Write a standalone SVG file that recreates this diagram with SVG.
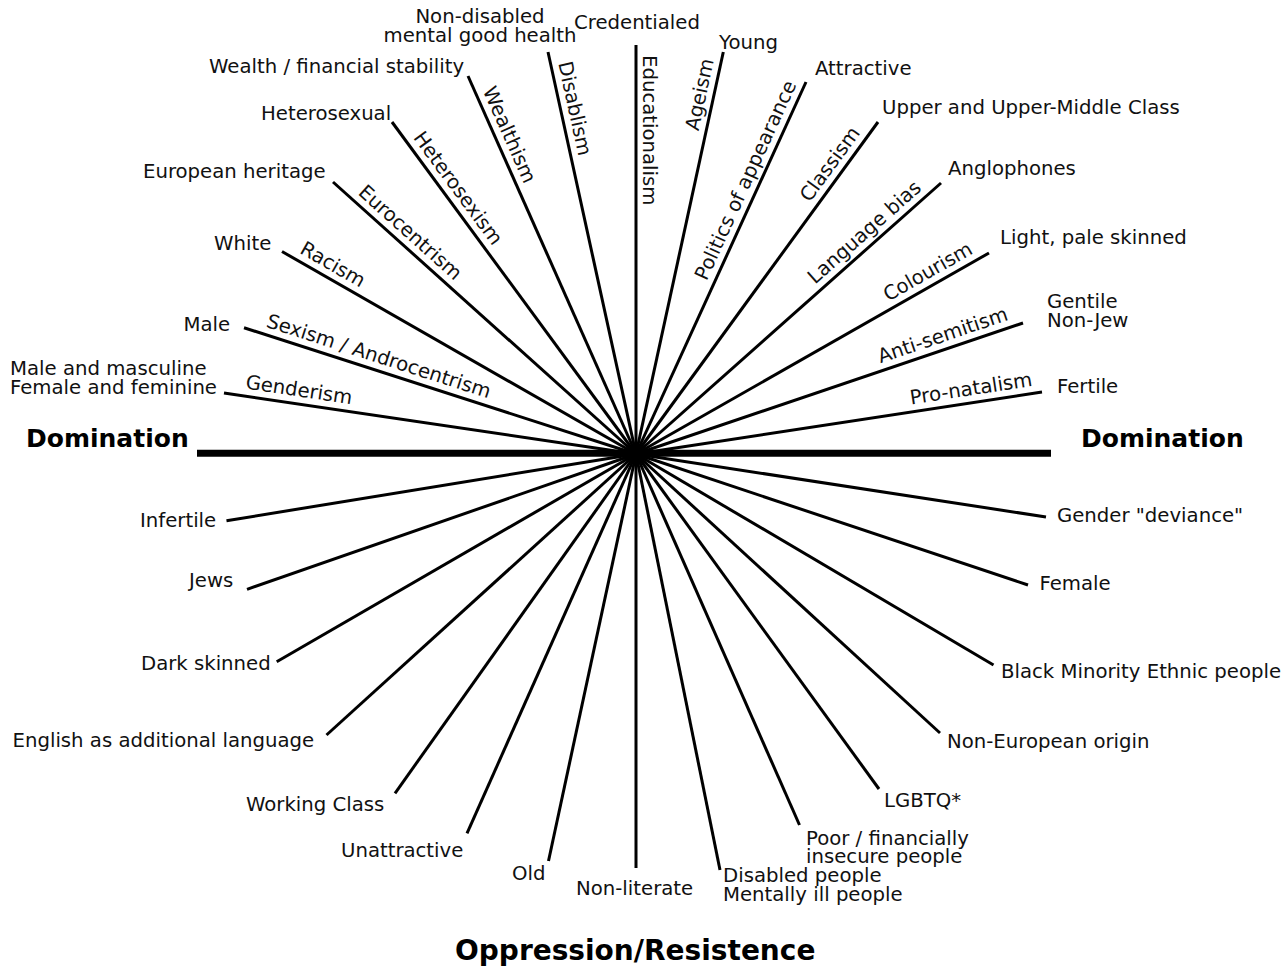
<svg xmlns="http://www.w3.org/2000/svg" width="1286" height="967" viewBox="0 0 1286 967">
<style>
text{font-family:"DejaVu Sans","Liberation Sans",sans-serif;font-size:19.7px;fill:#111}
.b{font-weight:bold;font-size:25px;fill:#000}
.t{font-weight:bold;font-size:28px;fill:#000}
.e{text-anchor:end}
.m{text-anchor:middle}
.sp line{stroke:#000;stroke-width:3;stroke-linecap:butt}
</style>
<rect width="1286" height="967" fill="#fff"/>
<g id="connectors" class="sp">
<line x1="636" y1="454" x2="224" y2="393"/>
<line x1="636" y1="454" x2="244" y2="327.7"/>
<line x1="636" y1="454" x2="282" y2="251.5"/>
<line x1="636" y1="454" x2="333" y2="182"/>
<line x1="636" y1="454" x2="392" y2="122"/>
<line x1="636" y1="454" x2="468" y2="76"/>
<line x1="636" y1="454" x2="548" y2="52"/>
<line x1="636" y1="454" x2="636" y2="45"/>
<line x1="636" y1="454" x2="723.3" y2="52"/>
<line x1="636" y1="454" x2="806" y2="82"/>
<line x1="636" y1="454" x2="878" y2="122"/>
<line x1="636" y1="454" x2="941" y2="183"/>
<line x1="636" y1="454" x2="989" y2="253"/>
<line x1="636" y1="454" x2="1023" y2="323"/>
<line x1="636" y1="454" x2="1042" y2="392"/>
<line x1="636" y1="454" x2="1046" y2="517"/>
<line x1="636" y1="454" x2="1028" y2="585"/>
<line x1="636" y1="454" x2="993.5" y2="665"/>
<line x1="636" y1="454" x2="940" y2="733"/>
<line x1="636" y1="454" x2="879" y2="789"/>
<line x1="636" y1="454" x2="799.5" y2="825"/>
<line x1="636" y1="454" x2="720" y2="870"/>
<line x1="636" y1="454" x2="636" y2="868"/>
<line x1="636" y1="454" x2="548.5" y2="861"/>
<line x1="636" y1="454" x2="467" y2="833.3"/>
<line x1="636" y1="454" x2="395" y2="793.3"/>
<line x1="636" y1="454" x2="326.5" y2="735"/>
<line x1="636" y1="454" x2="276.7" y2="661.7"/>
<line x1="636" y1="454" x2="247" y2="589.3"/>
<line x1="636" y1="454" x2="226.5" y2="520.7"/>
<line x1="197" y1="453.3" x2="1051" y2="453.3" style="stroke-width:7"/>
</g>
<g id="axis-labels">
<text class="b" x="26" y="447">Domination</text>
<text class="b" x="1081" y="447">Domination</text>
<text class="t" x="455" y="960">Oppression/Resistence</text>
</g>
<g id="gender">
<text x="10" y="375">Male and masculine</text>
<text x="10" y="393.5">Female and feminine</text>
<text transform="translate(243.8,395.9) rotate(8.43)" y="-7.5">Genderism</text>
<text x="1057" y="522">Gender "deviance"</text>
</g>
<g id="sexism">
<text x="183.5" y="331">Male</text>
<text transform="translate(263,333.8) rotate(17.86)" y="-7.5">Sexism / Androcentrism</text>
<text x="1039.5" y="590">Female</text>
</g>
<g id="racism">
<text x="214" y="250">White</text>
<text transform="translate(295,259) rotate(29.78)" y="-7.5">Racism</text>
<text x="1001" y="678">Black Minority Ethnic people</text>
</g>
<g id="eurocentrism">
<text x="143" y="178">European heritage</text>
<text transform="translate(352.3,199.4) rotate(41.92)" y="-7.5">Eurocentrism</text>
<text x="947" y="748">Non-European origin</text>
</g>
<g id="heterosexism">
<text x="261" y="120">Heterosexual</text>
<text transform="translate(406.8,142.2) rotate(53.69)" y="-7.5">Heterosexism</text>
<text x="884" y="807">LGBTQ*</text>
</g>
<g id="wealthism">
<text x="209" y="73">Wealth / financial stability</text>
<text transform="translate(475.7,93.4) rotate(66.04)" y="-7.5">Wealthism</text>
<text x="806" y="844.5">Poor / financially</text>
<text x="806" y="863">insecure people</text>
</g>
<g id="disablism">
<text class="m" x="480" y="23">Non-disabled</text>
<text class="m" x="480" y="42">mental good health</text>
<text transform="translate(550.8,64.7) rotate(77.65)" y="-7.5">Disablism</text>
<text x="723" y="882">Disabled people</text>
<text x="723" y="901">Mentally ill people</text>
</g>
<g id="educationalism">
<text x="574" y="29">Credentialed</text>
<text transform="translate(636,55) rotate(90)" y="-7">Educationalism</text>
<text x="576" y="895">Non-literate</text>
</g>
<g id="ageism">
<text x="719" y="49">Young</text>
<text class="e" transform="translate(721.2,61.8) rotate(-77.75)" y="-7.5">Ageism</text>
<text x="512" y="880">Old</text>
</g>
<g id="appearance">
<text x="815" y="75">Attractive</text>
<text class="e" transform="translate(803.5,87.5) rotate(-65.44)" y="-7.5">Politics of appearance</text>
<text x="341" y="857">Unattractive</text>
</g>
<g id="classism">
<text x="882" y="114">Upper and Upper-Middle Class</text>
<text class="e" transform="translate(866.8,137.4) rotate(-53.91)" y="-7.5">Classism</text>
<text x="246" y="811">Working Class</text>
</g>
<g id="language">
<text x="948" y="175">Anglophones</text>
<text class="e" transform="translate(927.5,195) rotate(-41.62)" y="-7.5">Language bias</text>
<text x="12.5" y="747">English as additional language</text>
</g>
<g id="colourism">
<text x="1000" y="244">Light, pale skinned</text>
<text class="e" transform="translate(977.7,259.4) rotate(-29.66)" y="-7.5">Colourism</text>
<text x="141" y="670">Dark skinned</text>
</g>
<g id="antisemitism">
<text x="1047" y="308">Gentile</text>
<text x="1047" y="327">Non-Jew</text>
<text class="e" transform="translate(1011.6,326.8) rotate(-18.7)" y="-7.5">Anti-semitism</text>
<text x="189" y="587">Jews</text>
</g>
<g id="pronatalism">
<text x="1057" y="393">Fertile</text>
<text class="e" transform="translate(1034.1,393.2) rotate(-8.68)" y="-7.5">Pro-natalism</text>
<text x="140" y="527">Infertile</text>
</g>
</svg>
